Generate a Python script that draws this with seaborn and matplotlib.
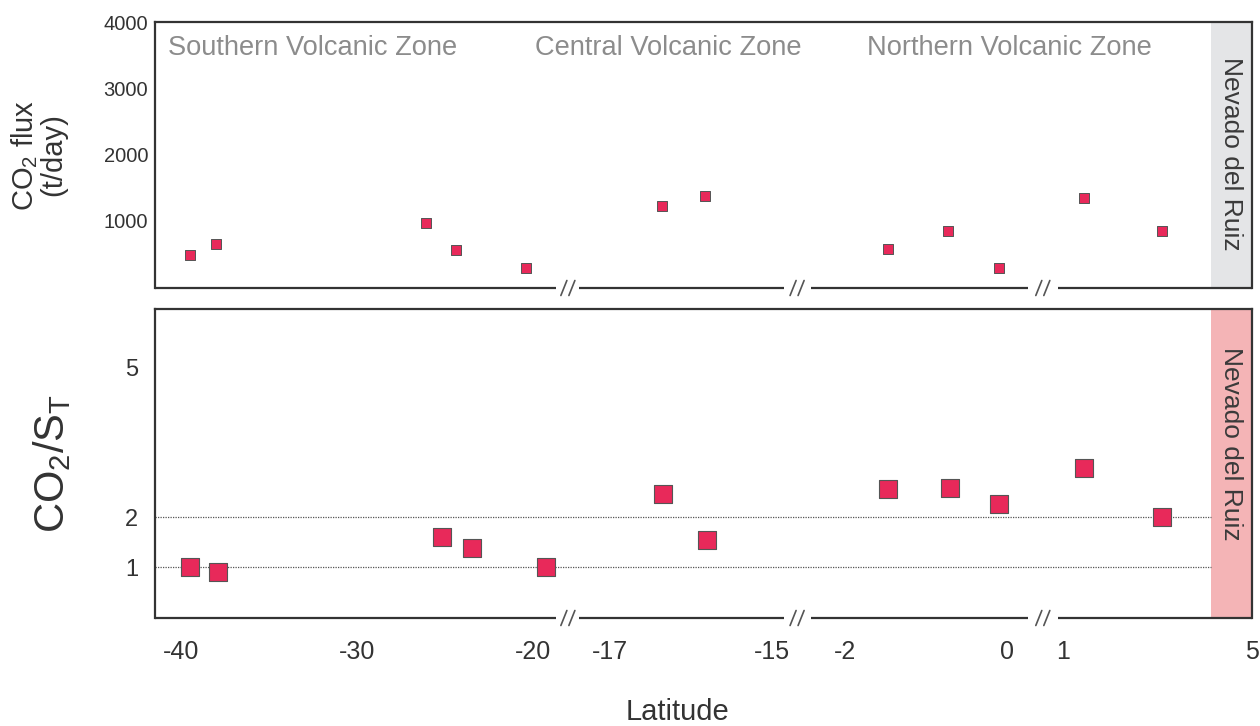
import numpy as np
import matplotlib
matplotlib.use("Agg")
import matplotlib.pyplot as plt
import seaborn as sns

# CO2 flux (t/day) against volcano latitude
flux_lat = [-39.5, -38.0, -26.1, -24.4, -20.4, -16.36, -15.83, -1.46, -0.72, -0.09, 1.45, 3.1]
flux_val = [475, 640, 965, 550, 275, 1225, 1365, 565, 840, 285, 1340, 835]

# CO2/ST molar ratio against volcano latitude
ratio_lat = [-39.5, -37.9, -25.2, -23.5, -19.3, -16.35, -15.81, -1.47, -0.70, -0.09, 1.45, 3.1]
ratio_val = [1.0, 0.9, 1.61, 1.39, 1.0, 2.46, 1.54, 2.56, 2.58, 2.27, 2.98, 2.0]

zone_names = ["Southern Volcanic Zone", "Central Volcanic Zone", "Northern Volcanic Zone"]
zone_start = [-40.75, -19.9, -1.73]
band_label = "Nevado del Ruiz"
band_range = (4.13, 5.0)

x_ticks = [-40, -35, -30, -25, -20, -17, -16, -15, -2, -1, 0, 1, 3, 5]
x_ticklabels = ["-40", "", "-30", "", "-20", "-17", "", "-15", "-2", "", "0", "1", "", "5"]
flux_ticks = [1000, 2000, 3000, 4000]
ratio_ticks = [1, 2, 3, 4, 5]
ratio_ticklabels = ["1", "2", "", "", "5"]
ref_ratios = [1, 2]

# Broken latitude axis: piecewise-linear scale, knots in latitude -> drawing units
LAT_KNOTS = [-100.0, -41.48, -18.7, -17.38, -14.86, -2.42, 0.26, 0.89, 5.0, 20.0]
U_KNOTS = [-1030.0, 0, 401, 424, 628, 655, 872, 902, 1096, 1804]
SEGMENTS = [(-41.48, -18.7), (-17.38, -14.86), (-2.42, 0.26), (0.89, 5.0)]
GAP_CENTERS_U = [412.5, 641.5, 887.0]


def fwd(x):
    return np.interp(x, LAT_KNOTS, U_KNOTS)


def inv(u):
    return np.interp(u, U_KNOTS, LAT_KNOTS)


sns.set_style("white")
plt.rcParams["font.family"] = ["Liberation Sans", "DejaVu Sans"]
plt.rcParams["mathtext.fontset"] = "custom"
plt.rcParams["mathtext.rm"] = "Liberation Sans"
plt.rcParams["mathtext.it"] = "Liberation Sans:italic"

INK = "#333333"
MARKER = "#e8295a"

fig = plt.figure(figsize=(12.6, 7.26), dpi=100)
W, H = 1260, 726
ax_top = fig.add_axes([155 / W, 1 - 288 / H, 1097 / W, 266 / H])
ax_bot = fig.add_axes([155 / W, 1 - 618 / H, 1097 / W, 309 / H])

for ax in (ax_top, ax_bot):
    ax.set_xscale("function", functions=(fwd, inv))
    ax.set_xlim(-41.48, 5.0)
    ax.set_xticks(x_ticks)
    for side in ("left", "top", "right"):
        ax.spines[side].set_color(INK)
        ax.spines[side].set_linewidth(1.6)
    ax.spines["bottom"].set_visible(False)
    ax.grid(False)

sns.scatterplot(x=flux_lat, y=flux_val, marker="s", s=62, color=MARKER,
                edgecolor="#555555", linewidth=0.7, ax=ax_top, zorder=3)
sns.scatterplot(x=ratio_lat, y=ratio_val, marker="s", s=185, color=MARKER,
                edgecolor="#555555", linewidth=0.8, ax=ax_bot, zorder=3)

ax_top.set_ylim(-20, 4000)
ax_top.set_yticks(flux_ticks)
ax_top.set_yticklabels([str(t) for t in flux_ticks])
ax_bot.set_ylim(-0.02, 6.18)
ax_bot.set_yticks(ratio_ticks)
ax_bot.set_yticklabels(ratio_ticklabels)

ax_top.tick_params(axis="y", direction="in", length=4, width=1, color=INK,
                   labelsize=14.5, labelcolor=INK, pad=5)
ax_top.tick_params(axis="x", direction="out", length=5, width=1, color=INK,
                   labelbottom=False)
ax_bot.tick_params(axis="y", direction="in", length=4, width=1, color=INK,
                   labelsize=17, labelcolor=INK, pad=12)
ax_bot.tick_params(axis="x", direction="in", length=5, width=1, color=INK,
                   labelsize=18, labelcolor=INK, pad=16)
ax_bot.set_xticklabels(x_ticklabels)

# Reference ratio lines
ax_bot.hlines(ref_ratios, -41.48, band_range[0], colors="#555555",
              linestyles=(0, (1, 1)), linewidth=0.9, zorder=1)

# Nevado del Ruiz bands
ax_top.axvspan(*band_range, color="#e4e5e7", zorder=0, lw=0)
ax_bot.axvspan(*band_range, color="#f4b4b6", zorder=0, lw=0)
band_mid = 0.5 * (band_range[0] + band_range[1])
ax_top.text(band_mid, 0.505, band_label, transform=ax_top.get_xaxis_transform(),
            rotation=270, ha="center", va="center", fontsize=19, color="#3a3a3a")
ax_bot.text(band_mid, 0.565, band_label, transform=ax_bot.get_xaxis_transform(),
            rotation=270, ha="center", va="center", fontsize=19, color="#3a3a3a")

# Volcanic zone names
for name, x0 in zip(zone_names, zone_start):
    ax_top.text(x0, 0.902, name, transform=ax_top.get_xaxis_transform(),
                ha="left", va="center", fontsize=19.6, color="#8c8c8c")

# Broken bottom axis line with break marks
for ax, ax_h in ((ax_top, 266), (ax_bot, 309)):
    tr = ax.get_xaxis_transform()
    for a, b in SEGMENTS:
        ax.plot([a, b], [0, 0], transform=tr, color=INK, lw=1.6,
                clip_on=False, solid_capstyle="butt", zorder=4)
    dh = 7.5 / ax_h
    for c in GAP_CENTERS_U:
        for off in (-4.0, 4.0):
            xs = inv(np.array([c + off - 3.0, c + off + 3.0]))
            ax.plot(xs, [-dh, dh], transform=tr, color="#555555", lw=1.2,
                    clip_on=False, zorder=4)

# Axis labels
fig.text(38 / W, 1 - 155 / H, "CO$_{\\mathregular{2}}$ flux\n(t/day)",
         rotation=90, ha="center", va="center", multialignment="center",
         fontsize=21, color=INK, linespacing=0.95)
fig.text(52 / W, 1 - 463 / H, "CO$_{\\mathregular{2}}$/S$_{\\mathregular{T}}$",
         rotation=90, ha="center", va="center", fontsize=30, color=INK)
fig.text(677 / W, 1 - 712 / H, "Latitude", ha="center", va="center",
         fontsize=21, color=INK)

fig.savefig("out.png", dpi=100, facecolor="white")
